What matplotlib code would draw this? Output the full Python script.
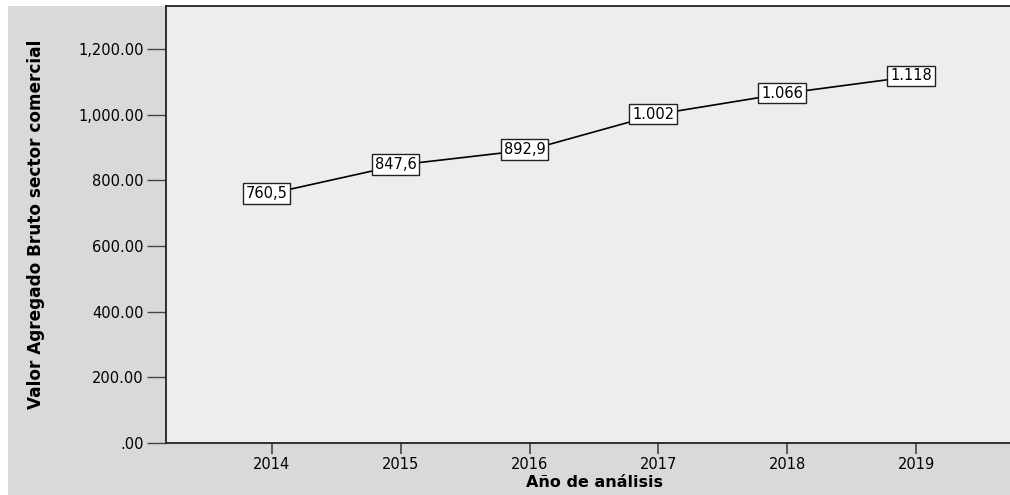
import matplotlib.pyplot as plt
from matplotlib.patches import Rectangle
from matplotlib.ticker import FuncFormatter

plt.rcParams['font.family'] = ['DejaVu Sans']

# Datos
years = [2014, 2015, 2016, 2017, 2018, 2019]
vab = [760.5, 847.6, 892.9, 1002, 1066, 1118]
labels = ['760,5', '847,6', '892,9', '1.002', '1.066', '1.118']

W, H = 1010, 495
fig = plt.figure(figsize=(W / 100, H / 100), dpi=100, facecolor='white')
# fondo gris de la figura
fig.add_artist(Rectangle((8 / W, 0), 1 - 8 / W, 1 - 6 / H,
                         transform=fig.transFigure, facecolor='#d9d9d9',
                         edgecolor='none', zorder=-10))

ax = fig.add_axes([166 / W, 1 - 443 / H, (1022 - 166) / W, (443 - 6) / H])
ax.set_zorder(1)
ax.set_facecolor('#ededed')

ax.plot(years, vab, color='black', lw=1.2, zorder=2)
for x, y, t in zip(years, vab, labels):
    ax.text(x - 0.04, y, t, ha='center', va='center', fontsize=10.5, zorder=3,
            bbox=dict(boxstyle='square,pad=0.2', facecolor='white',
                      edgecolor='#222222', lw=1))

ax.set_xlim(2013.18, 2019.82)
ax.set_ylim(0, 1331)
ax.set_xticks(years)
ax.set_yticks([0, 200, 400, 600, 800, 1000, 1200])


def fmt(v, pos):
    s = f'{v:,.2f}'
    return '.00' if v == 0 else s


ax.yaxis.set_major_formatter(FuncFormatter(fmt))
ax.tick_params(axis='y', length=14, width=1, color='#444444', labelsize=10.5, pad=2)
ax.tick_params(axis='x', length=8, width=1.2, color='#444444', labelsize=10.5, pad=2)

for s in ['left', 'bottom', 'top']:
    ax.spines[s].set_color('#222222')
    ax.spines[s].set_linewidth(1.3)
ax.spines['right'].set_visible(False)

ax.set_xlabel('Año de análisis', fontsize=11.5, fontweight='bold', labelpad=2)
ax.set_ylabel('Valor Agregado Bruto sector comercial', fontsize=12.2,
              fontweight='bold', va='center')
ax.yaxis.set_label_coords((36 - 166) / 856, 0.5)

fig.savefig('out.png', dpi=100, facecolor='white')
